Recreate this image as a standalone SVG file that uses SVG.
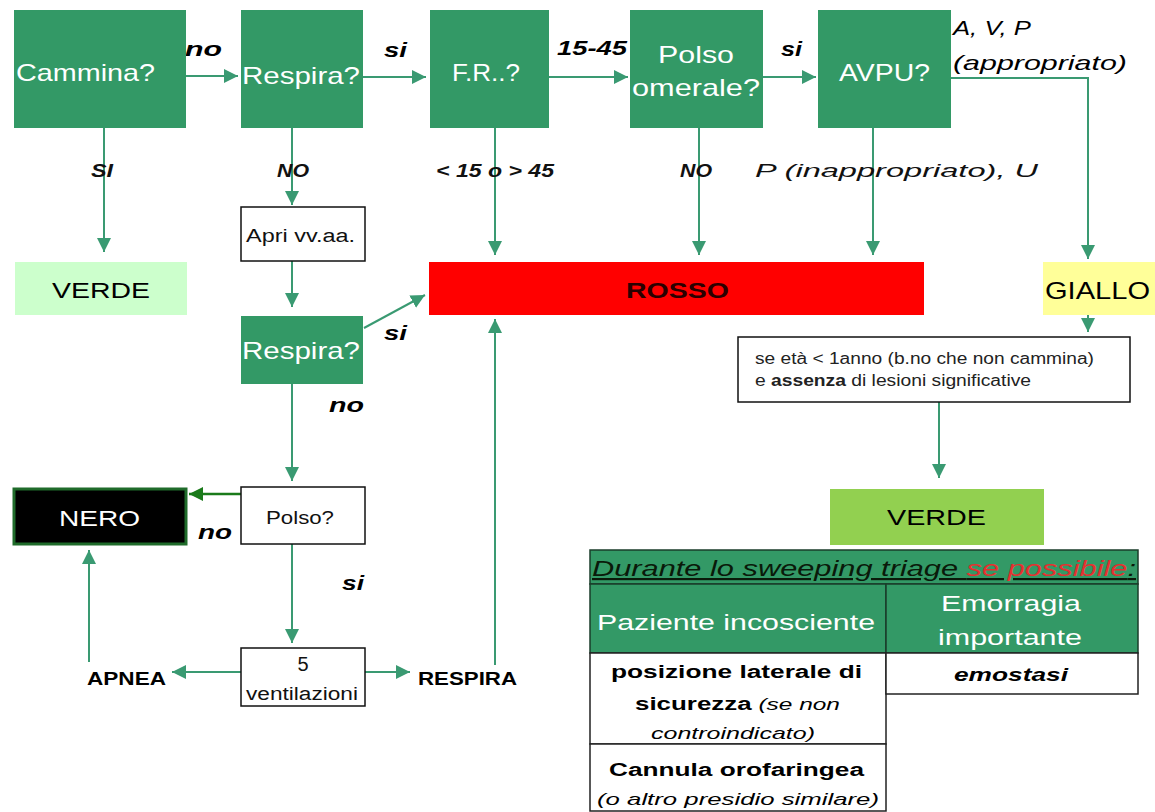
<svg xmlns="http://www.w3.org/2000/svg" width="1155" height="812" viewBox="0 0 1155 812">
<style>
text{font-family:"Liberation Sans",Arial,sans-serif}
.gb{fill:#339966}
.wt{fill:#ffffff;font-size:24px}
.lbl{fill:#000;font-size:21px;font-style:italic;font-weight:bold}
.lbs{fill:#111;font-size:19px;font-style:italic;font-weight:bold}
.wb{fill:#fff;stroke:#111;stroke-width:1.5}
.con{stroke:#3a9a72;stroke-width:2;fill:none}
.tb{fill:#000;font-size:18px;font-weight:bold}
.ti{fill:#000;font-size:17px;font-style:italic}
</style>
<defs>
<marker id="ah" viewBox="0 0 10 10" refX="10" refY="5" markerWidth="14" markerHeight="14" markerUnits="userSpaceOnUse" orient="auto"><path d="M0,0 L10,5 L0,10 z" fill="#3a9a72"/></marker>
<marker id="ahd" viewBox="0 0 10 10" refX="10" refY="5" markerWidth="14" markerHeight="14" markerUnits="userSpaceOnUse" orient="auto"><path d="M0,0 L10,5 L0,10 z" fill="#1a7a1a"/></marker>
</defs>
<rect width="1155" height="812" fill="#fff"/>

<g id="connectors">
<line class="con" x1="186" y1="76" x2="238" y2="76" marker-end="url(#ah)"/>
<line class="con" x1="363" y1="77" x2="426" y2="77" marker-end="url(#ah)"/>
<line class="con" x1="549" y1="77" x2="628" y2="77" marker-end="url(#ah)"/>
<line class="con" x1="763" y1="77" x2="816" y2="77" marker-end="url(#ah)"/>
<polyline class="con" points="951,78 1088,78 1088,259" marker-end="url(#ah)"/>
<line x1="1088" y1="262" x2="1088" y2="315" stroke="#3a9a72" stroke-width="1.5" stroke-dasharray="6,4"/>
<line class="con" x1="1088" y1="315" x2="1088" y2="332" marker-end="url(#ah)"/>
<line class="con" x1="104" y1="128" x2="104" y2="252" marker-end="url(#ah)"/>
<line class="con" x1="292" y1="128" x2="292" y2="205" marker-end="url(#ah)"/>
<line class="con" x1="292" y1="261" x2="292" y2="307" marker-end="url(#ah)"/>
<line class="con" x1="495" y1="128" x2="495" y2="255" marker-end="url(#ah)"/>
<line class="con" x1="699" y1="128" x2="699" y2="255" marker-end="url(#ah)"/>
<line class="con" x1="873" y1="128" x2="873" y2="255" marker-end="url(#ah)"/>
<line class="con" x1="364" y1="328" x2="425" y2="295" marker-end="url(#ah)"/>
<line class="con" x1="292" y1="384" x2="292" y2="481" marker-end="url(#ah)"/>
<line x1="241" y1="494" x2="189" y2="494" stroke="#1a7a1a" stroke-width="2.5" marker-end="url(#ahd)"/>
<line class="con" x1="292" y1="544" x2="292" y2="643" marker-end="url(#ah)"/>
<line class="con" x1="241" y1="672" x2="172" y2="672" marker-end="url(#ah)"/>
<line class="con" x1="365" y1="672" x2="410" y2="672" marker-end="url(#ah)"/>
<line class="con" x1="89" y1="662" x2="89" y2="550" marker-end="url(#ah)"/>
<line class="con" x1="495" y1="665" x2="495" y2="319" marker-end="url(#ah)"/>
<line class="con" x1="939" y1="402" x2="939" y2="478" marker-end="url(#ah)"/>
</g>

<g id="labels">
<text class="lbl" x="185" y="56" textLength="37" lengthAdjust="spacingAndGlyphs">no</text>
<text class="lbl" x="384" y="57" textLength="23" lengthAdjust="spacingAndGlyphs">si</text>
<text class="lbl" x="557" y="55" textLength="70" lengthAdjust="spacingAndGlyphs">15-45</text>
<text class="lbl" x="781" y="56" textLength="21" lengthAdjust="spacingAndGlyphs">si</text>
<text x="953" y="35" fill="#000" font-size="21" font-style="italic" textLength="78" lengthAdjust="spacingAndGlyphs">A, V, P</text>
<text x="953" y="70" fill="#000" font-size="21" font-style="italic" textLength="174" lengthAdjust="spacingAndGlyphs">(appropriato)</text>
<text class="lbs" x="91" y="177" textLength="22" lengthAdjust="spacingAndGlyphs">SI</text>
<text class="lbs" x="277" y="177" textLength="32" lengthAdjust="spacingAndGlyphs">NO</text>
<text class="lbs" x="436" y="177" textLength="118" lengthAdjust="spacingAndGlyphs">&lt; 15 o &gt; 45</text>
<text class="lbs" x="680" y="177" textLength="32" lengthAdjust="spacingAndGlyphs">NO</text>
<text x="755" y="177" fill="#111" font-size="19" font-style="italic" textLength="283" lengthAdjust="spacingAndGlyphs">P (inappropriato), U</text>
<text class="lbl" x="384" y="340" textLength="23" lengthAdjust="spacingAndGlyphs">si</text>
<text class="lbl" x="329" y="412" textLength="35" lengthAdjust="spacingAndGlyphs">no</text>
<text class="lbl" x="198" y="539" textLength="34" lengthAdjust="spacingAndGlyphs">no</text>
<text class="lbl" x="342" y="590" textLength="22" lengthAdjust="spacingAndGlyphs">si</text>
</g>

<g id="cammina"><rect class="gb" x="14" y="10" width="172" height="118"/><text class="wt" x="16" y="81" textLength="139" lengthAdjust="spacingAndGlyphs">Cammina?</text></g>
<g id="respira1"><rect class="gb" x="241" y="10" width="122" height="118"/><text class="wt" x="242" y="84" textLength="118" lengthAdjust="spacingAndGlyphs">Respira?</text></g>
<g id="fr"><rect class="gb" x="430" y="10" width="119" height="118"/><text class="wt" x="452" y="81" textLength="68" lengthAdjust="spacingAndGlyphs">F.R..?</text></g>
<g id="polso-omerale"><rect class="gb" x="630" y="10" width="133" height="118"/><text class="wt" x="658" y="63" textLength="76" lengthAdjust="spacingAndGlyphs">Polso</text><text class="wt" x="632" y="96" textLength="128" lengthAdjust="spacingAndGlyphs">omerale?</text></g>
<g id="avpu"><rect class="gb" x="818" y="10" width="133" height="118"/><text class="wt" x="839" y="81" textLength="91" lengthAdjust="spacingAndGlyphs">AVPU?</text></g>

<g id="verde1"><rect x="15" y="262" width="172" height="53" fill="#ccffcc"/><text x="52" y="298" fill="#000" font-size="22" textLength="98" lengthAdjust="spacingAndGlyphs">VERDE</text></g>
<g id="apri"><rect class="wb" x="241" y="207" width="124" height="54"/><text x="246" y="242" fill="#111" font-size="18" textLength="109" lengthAdjust="spacingAndGlyphs">Apri vv.aa.</text></g>
<g id="respira2"><rect class="gb" x="241" y="316" width="122" height="68"/><text class="wt" x="242" y="359" textLength="118" lengthAdjust="spacingAndGlyphs">Respira?</text></g>
<g id="rosso"><rect x="429" y="262" width="495" height="53" fill="#ff0000"/><text x="626" y="298" fill="#2a0000" font-size="22" font-weight="bold" textLength="103" lengthAdjust="spacingAndGlyphs">ROSSO</text></g>
<g id="giallo"><rect x="1043" y="262" width="112" height="53" fill="#ffff99"/><text x="1045" y="299" fill="#000" font-size="24" textLength="105" lengthAdjust="spacingAndGlyphs">GIALLO</text></g>
<g id="condizione"><rect class="wb" x="738" y="337" width="392" height="65"/><text x="755" y="364" fill="#222" font-size="16" textLength="339" lengthAdjust="spacingAndGlyphs">se età &lt; 1anno (b.no che non cammina)</text><text x="755" y="386" fill="#222" font-size="16" textLength="276" lengthAdjust="spacingAndGlyphs">e <tspan font-weight="bold">assenza</tspan> di lesioni significative</text></g>
<g id="verde2"><rect x="830" y="489" width="214" height="56" fill="#92d050"/><text x="887" y="525" fill="#000" font-size="22" textLength="99" lengthAdjust="spacingAndGlyphs">VERDE</text></g>
<g id="nero"><rect x="14" y="489" width="172" height="55" fill="#000" stroke="#1f6b2a" stroke-width="3"/><text x="59" y="526" fill="#fff" font-size="22" textLength="81" lengthAdjust="spacingAndGlyphs">NERO</text></g>
<g id="polso"><rect class="wb" x="241" y="487" width="124" height="57"/><text x="266" y="524" fill="#111" font-size="18" textLength="68" lengthAdjust="spacingAndGlyphs">Polso?</text></g>
<g id="ventilazioni"><rect class="wb" x="241" y="648" width="124" height="58"/><text x="303" y="671" fill="#111" font-size="20" text-anchor="middle">5</text><text x="246" y="700" fill="#111" font-size="18" textLength="112" lengthAdjust="spacingAndGlyphs">ventilazioni</text></g>
<g id="apnea"><text x="87" y="685" fill="#000" font-size="19" font-weight="bold" textLength="79" lengthAdjust="spacingAndGlyphs">APNEA</text></g>
<g id="respira3"><text x="418" y="685" fill="#000" font-size="19" font-weight="bold" textLength="99" lengthAdjust="spacingAndGlyphs">RESPIRA</text></g>

<g id="tabella">
<rect x="590" y="550" width="548" height="34" fill="#339966" stroke="#1a3d2a" stroke-width="1.5"/>
<text x="592" y="576" font-size="22" font-style="italic" fill="#0a1a0a" text-decoration="underline" textLength="544" lengthAdjust="spacingAndGlyphs">Durante lo sweeping triage <tspan fill="#e53030">se possibile</tspan>:</text>
<rect x="590" y="584" width="296" height="69" fill="#339966" stroke="#1a3d2a" stroke-width="1.5"/>
<rect x="886" y="584" width="252" height="69" fill="#339966" stroke="#1a3d2a" stroke-width="1.5"/>
<text x="597" y="630" fill="#fff" font-size="22" textLength="278" lengthAdjust="spacingAndGlyphs">Paziente incosciente</text>
<text x="941" y="611" fill="#fff" font-size="22" textLength="140" lengthAdjust="spacingAndGlyphs">Emorragia</text>
<text x="938" y="645" fill="#fff" font-size="22" textLength="144" lengthAdjust="spacingAndGlyphs">importante</text>
<rect x="590" y="653" width="296" height="91" fill="#fff" stroke="#222" stroke-width="1.5"/>
<rect x="886" y="653" width="252" height="41" fill="#fff" stroke="#222" stroke-width="1.5"/>
<rect x="590" y="744" width="296" height="67" fill="#fff" stroke="#222" stroke-width="1.5"/>
<text class="tb" x="611" y="678" textLength="251" lengthAdjust="spacingAndGlyphs">posizione laterale di</text>
<text x="635" y="710" textLength="205" lengthAdjust="spacingAndGlyphs"><tspan class="tb">sicurezza</tspan><tspan class="ti"> (se non</tspan></text>
<text class="ti" x="651" y="739" textLength="164" lengthAdjust="spacingAndGlyphs">controindicato)</text>
<text x="954" y="681" fill="#000" font-size="18" font-weight="bold" font-style="italic" textLength="114" lengthAdjust="spacingAndGlyphs">emostasi</text>
<text class="tb" x="609" y="776" textLength="255" lengthAdjust="spacingAndGlyphs">Cannula orofaringea</text>
<text class="ti" x="597" y="805" textLength="282" lengthAdjust="spacingAndGlyphs">(o altro presidio similare)</text>
</g>
</svg>
